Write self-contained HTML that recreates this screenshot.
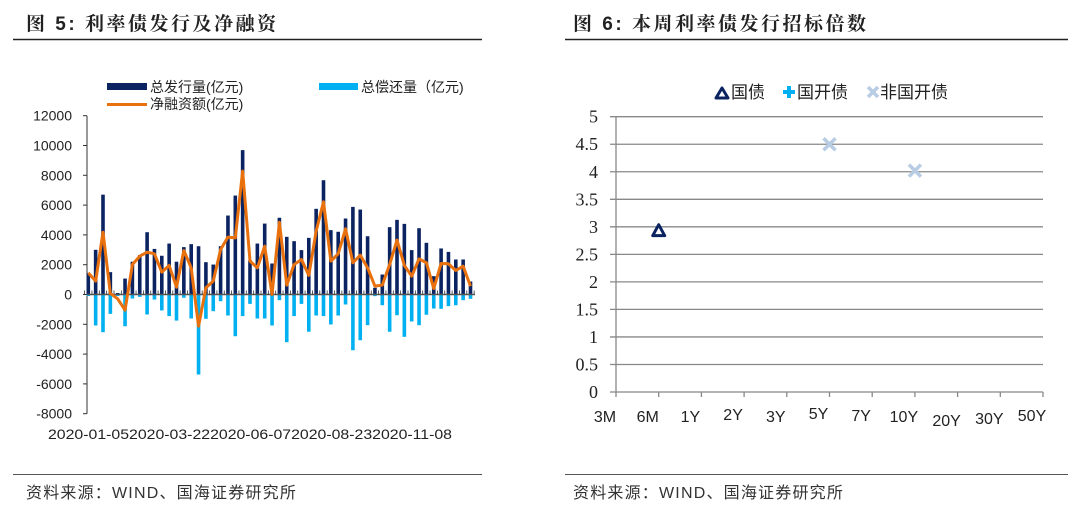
<!DOCTYPE html>
<html><head><meta charset="utf-8"><style>
body{margin:0;width:1080px;height:505px;background:#fff;overflow:hidden;font-family:"Liberation Sans","Noto Sans CJK SC",sans-serif}
svg{position:absolute;left:0;top:0}
</style></head><body>
<svg width="1080" height="505">
<g>
<text x="26" y="30" font-size="19" font-weight="bold" fill="#222" letter-spacing="2.5" font-family="'Liberation Sans','Noto Serif CJK SC',sans-serif">图 5:  利率债发行及净融资</text>
<line x1="13" y1="39.5" x2="482" y2="39.5" stroke="#222" stroke-width="1.5"/>
</g>
<g>
<text x="573" y="30" font-size="19" font-weight="bold" fill="#222" letter-spacing="2.5" font-family="'Liberation Sans','Noto Serif CJK SC',sans-serif">图 6:  本周利率债发行招标倍数</text>
<line x1="565" y1="39.5" x2="1068" y2="39.5" stroke="#222" stroke-width="1.5"/>
</g>
<line x1="13" y1="474.5" x2="482" y2="474.5" stroke="#555" stroke-width="1"/>
<line x1="565" y1="474.5" x2="1068" y2="474.5" stroke="#555" stroke-width="1"/>
<text x="26" y="498" font-size="16" fill="#333" letter-spacing="1.2">资料来源：WIND、国海证券研究所</text>
<text x="573" y="498" font-size="16" fill="#333" letter-spacing="1.2">资料来源：WIND、国海证券研究所</text>

<g font-size="14" fill="#222">
<rect x="107" y="83" width="40" height="7" fill="#0b2461"/><text x="150" y="92">总发行量(亿元)</text>
<rect x="319" y="83" width="39" height="7" fill="#00b0f0"/><text x="361" y="92">总偿还量（亿元)</text>
<rect x="107" y="103" width="40" height="3" fill="#e8700d"/><text x="150" y="109">净融资额(亿元)</text>
</g>
<g id="left"></g>
<g id="right"></g>
</svg>
<script>
const NS='http://www.w3.org/2000/svg';
const issue=[1450,3000,6700,1500,100,1070,2200,2640,4180,3060,2600,3420,2200,3180,3380,3240,2170,2010,3240,5300,6640,9690,2300,3420,4760,2080,5150,3870,3580,2980,3800,5750,7670,4320,4210,5100,5880,5700,3910,450,1340,4520,5010,4740,2980,4450,3470,1230,3090,2860,2350,2350,870];
const repay=[-100,-2080,-2530,-1300,-100,-2130,-270,-160,-1340,-340,-1070,-1450,-1750,-220,-1610,-5370,-1630,-1120,-450,-1410,-2800,-1450,-630,-1610,-1610,-2080,-380,-3200,-1450,-630,-2500,-1410,-1450,-2010,-1410,-670,-3740,-3070,-2060,-110,-720,-2500,-1390,-2840,-1810,-2060,-1360,-940,-960,-780,-720,-380,-290];
const net=[1450,900,4180,70,-290,-1050,2010,2570,2840,2730,1500,1950,490,2950,1790,-2130,450,900,3020,3850,3800,8280,2240,1790,3240,0,4850,630,2010,2350,1280,4250,6220,2240,2730,4410,2130,2640,1790,560,630,2010,3650,1950,1230,2390,2130,400,2080,2060,1610,1900,560];
const yTicks=[12000,10000,8000,6000,4000,2000,0,-2000,-4000,-6000,-8000];
const xLabels=['2020-01-05','2020-03-22','2020-06-07','2020-08-23','2020-11-08'];
const cats=['3M','6M','1Y','2Y','3Y','5Y','7Y','10Y','20Y','30Y','50Y'];
const rTicks=[0,0.5,1,1.5,2,2.5,3,3.5,4,4.5,5];
const govCat=['6M'];const govVal=[2.93];
const cdbCat=[];const cdbVal=[];
const nonCat=['5Y','10Y'];const nonVal=[4.5,4.02];

function el(p,t,a){const e=document.createElementNS(NS,t);for(const k in a)e.setAttribute(k,a[k]);p.appendChild(e);return e;}
const L=document.getElementById('left');
const ly=v=>294.5-v*(29.8/2000);
const lx=i=>88.3+i*7.35;
yTicks.forEach(v=>{const t=el(L,'text',{x:72,y:ly(v)+5,'font-size':14,'text-anchor':'end',fill:'#222'});t.textContent=v;

el(L,'line',{x1:83,x2:87,y1:ly(v),y2:ly(v),stroke:'#333'});});
el(L,'line',{x1:87,x2:87,y1:ly(12000),y2:ly(-8000),stroke:'#333','stroke-width':1});
issue.forEach((v,i)=>{const r=el(L,'rect',{x:lx(i)-1.8,y:ly(v),width:3.6,height:ly(0)-ly(v),fill:'#0b2461'});
});
repay.forEach((v,i)=>{const r=el(L,'rect',{x:lx(i)-1.8,y:ly(0),width:3.6,height:ly(v)-ly(0),fill:'#00b0f0'});
});
el(L,'line',{x1:87,x2:475,y1:ly(0),y2:ly(0),stroke:'#555','stroke-width':1.5});
for(let i=0;i<=53;i++)el(L,'line',{x1:lx(i)-3.7,x2:lx(i)-3.7,y1:ly(0)-4,y2:ly(0),stroke:'#333','stroke-width':0.8});
const pl=el(L,'polyline',{points:net.map((v,i)=>lx(i)+','+ly(v)).join(' '),fill:'none',stroke:'#e8700d','stroke-width':3,'stroke-linejoin':'round'});

const xl=el(L,'text',{x:48,y:439,'font-size':14,fill:'#222',textLength:404,lengthAdjust:'spacingAndGlyphs'});xl.textContent=xLabels.join('');

const R=document.getElementById('right');
const rx=c=>616+cats.indexOf(c)*42.7;
const ry=v=>392-v*55.06;
rTicks.forEach(v=>{el(R,'line',{x1:610,x2:1043,y1:ry(v),y2:ry(v),stroke:'#888','stroke-width':1.3});
const t=el(R,'text',{x:598,y:ry(v)+6,'font-size':18,'text-anchor':'end',fill:'#222','font-family':'Liberation Serif,serif'});t.textContent=v;
});
el(R,'line',{x1:616,x2:616,y1:ry(5),y2:ry(0),stroke:'#888','stroke-width':1.3});
const dy=[0,0,0,-2,0,-3,-1,0,4,2,-1];
cats.forEach((c,i)=>{el(R,'line',{x1:rx(c),x2:rx(c),y1:392,y2:397,stroke:'#888','stroke-width':1.3});
const t=el(R,'text',{x:rx(c)-11,y:422+dy[i],'font-size':16,'text-anchor':'middle',fill:'#222'});t.textContent=c;
});
govCat.forEach((c,i)=>{const x=rx(c),y=ry(govVal[i]);const p=el(R,'polygon',{points:`${x},${y-6} ${x+6},${y+5} ${x-6},${y+5}`,fill:'none',stroke:'#0b2461','stroke-width':3,'stroke-linejoin':'round'});
});
cdbCat.forEach((c,i)=>{const x=rx(c),y=ry(cdbVal[i]);const p=el(R,'path',{d:`M${x-6} ${y}H${x+6}M${x} ${y-6}V${y+6}`,stroke:'#00b0f0','stroke-width':4});
});
nonCat.forEach((c,i)=>{const x=rx(c),y=ry(nonVal[i]);const p=el(R,'path',{d:`M${x-6} ${y-6}L${x+6} ${y+6}M${x+6} ${y-6}L${x-6} ${y+6}`,stroke:'#b8cce4','stroke-width':3.5});
});
const lg=el(R,'g',{'font-size':17,fill:'#222'});
el(lg,'polygon',{points:'722,88 728,98 716,98',fill:'none',stroke:'#0b2461','stroke-width':3,'stroke-linejoin':'round'});
el(lg,'text',{x:731,y:98}).textContent='国债';
el(lg,'path',{d:'M783 92H795M789 86V98',stroke:'#00b0f0','stroke-width':4});
el(lg,'text',{x:797,y:98}).textContent='国开债';
el(lg,'path',{d:'M868 87L878 97M878 87L868 97',stroke:'#b8cce4','stroke-width':3.5});
el(lg,'text',{x:880,y:98}).textContent='非国开债';
</script>
</body></html>
